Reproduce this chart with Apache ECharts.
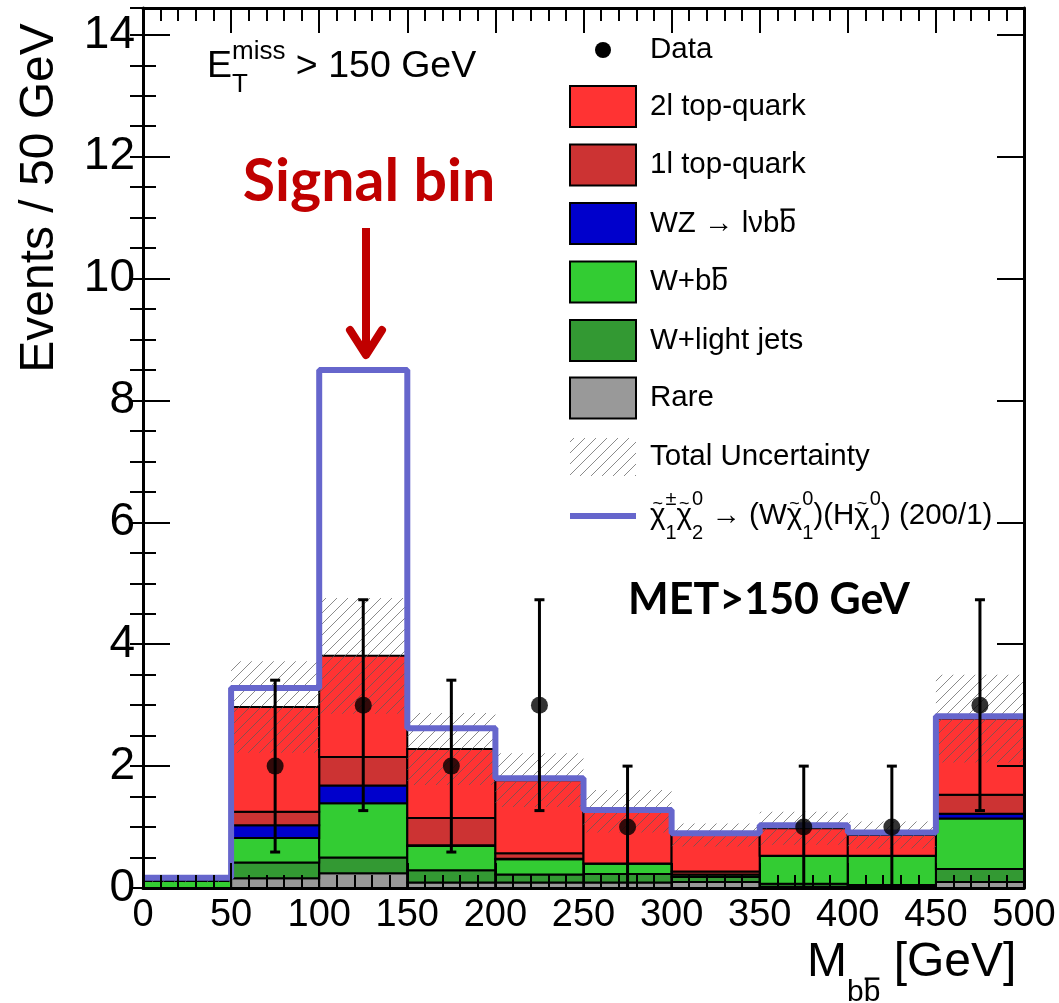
<!DOCTYPE html>
<html>
<head>
<meta charset="utf-8">
<script src="https://cdn.jsdelivr.net/npm/echarts@6/dist/echarts.min.js"></script>
<style>
  html, body { margin: 0; padding: 0; background: #fff; }
  #chart { width: 1059px; height: 1003px; }
</style>
</head>
<body>
<div id="chart"></div>
<script>
// bins of M_bb (GeV)
const binLo = [0, 50, 100, 150, 200, 250, 300, 350, 400, 450];
const binHi = [50, 100, 150, 200, 250, 300, 350, 400, 450, 500];

// background components, stacked bottom -> top (events per bin)
const rare   = [0,    0.16, 0.24, 0.09, 0.09, 0.09, 0.10, 0.02, 0.02, 0.10];
const wLight = [0,    0.26, 0.26, 0.20, 0.13, 0.14, 0.08, 0.05, 0.03, 0.21];
const wBB    = [0.12, 0.40, 0.89, 0.40, 0.25, 0.17, 0.04, 0.46, 0.48, 0.83];
const wz     = [0,    0.21, 0.29, 0.01, 0.01, 0,    0,    0,    0,    0.08];
const top1l  = [0,    0.22, 0.47, 0.45, 0.09, 0,    0.05, 0,    0,    0.31];
const top2l  = [0,    1.72, 1.66, 1.13, 1.20, 0.86, 0.60, 0.45, 0.34, 1.25];

// total uncertainty (half width of hatched band)
const totalUnc = [0.03, 0.75, 0.95, 0.59, 0.44, 0.35, 0.19, 0.27, 0.22, 0.72];

// signal + background step line
const signalLine = [0.17, 3.28, 8.50, 2.62, 1.80, 1.28, 0.90, 1.03, 0.91, 2.82];

// data points
const dataX   = [75, 125, 175, 225, 275, 375, 425, 475];
const dataY   = [2, 3, 2, 3, 1, 1, 1, 3];
const dataErr = [1.41, 1.73, 1.41, 1.73, 1, 1, 1, 1.73];

const xTickStep = 50;
const yTickStep = 2;

const FONT = '"Liberation Sans", Arial, sans-serif';
const colors = {
  rare: '#999999', wLight: '#339933', wBB: '#33cc33',
  wz: '#0000cc', top1l: '#cc3333', top2l: '#ff3333', signal: '#6666cc'
};

// hatch pattern for the uncertainty band
const hatchCanvas = document.createElement('canvas');
hatchCanvas.width = 11; hatchCanvas.height = 11;
(function () {
  const c = hatchCanvas.getContext('2d');
  c.strokeStyle = 'rgba(90,90,90,0.7)';
  c.lineWidth = 1;
  c.beginPath();
  c.moveTo(0, 11); c.lineTo(11, 0);
  c.moveTo(-5.5, 5.5); c.lineTo(5.5, -5.5);
  c.moveTo(5.5, 16.5); c.lineTo(16.5, 5.5);
  c.stroke();
})();
const hatch = { image: hatchCanvas, repeat: 'repeat' };

// build stacked boxes [x0, x1, base, top]
const stackOrder = [
  ['Rare', rare, colors.rare],
  ['W+light jets', wLight, colors.wLight],
  ['W+bb', wBB, colors.wBB],
  ['WZ', wz, colors.wz],
  ['1l top-quark', top1l, colors.top1l],
  ['2l top-quark', top2l, colors.top2l]
];
const base = binLo.map(() => 0);
const stackSeries = stackOrder.map(([name, vals, color]) => {
  const data = binLo.map((x0, i) => {
    const b = base[i];
    base[i] = +(b + vals[i]).toFixed(4);
    return [x0, binHi[i], b, base[i]];
  });
  return {
    name: name, type: 'custom', z: 2,
    itemStyle: { color: color },
    encode: { x: [0, 1], y: [2, 3] },
    renderItem: function (params, api) {
      const p0 = api.coord([api.value(0), api.value(3)]);
      const p1 = api.coord([api.value(1), api.value(2)]);
      return {
        type: 'rect',
        shape: { x: p0[0], y: p0[1], width: p1[0] - p0[0], height: p1[1] - p0[1] },
        style: { fill: api.visual('color'), stroke: '#000', lineWidth: 2 }
      };
    },
    data: data
  };
});
const total = base.slice();

const uncData = binLo.map((x0, i) => [x0, binHi[i], total[i] - totalUnc[i], total[i] + totalUnc[i]]);
const signalData = binLo.map((x, i) => [x, signalLine[i]]).concat([[binHi[binHi.length - 1], signalLine[signalLine.length - 1]]]);
const errData = dataX.map((x, i) => [x, dataY[i], Math.max(0, dataY[i] - dataErr[i]), dataY[i] + dataErr[i]]);

// text with sub/superscripts, bars and tildes
const measureCtx = document.createElement('canvas').getContext('2d');
function textW(t, size) {
  measureCtx.font = size + 'px ' + FONT;
  return measureCtx.measureText(t).width;
}
function mathText(x, y, size, parts, opt) {
  opt = opt || {};
  const small = Math.round(size * (opt.small || 0.68));
  const subDy = size * (opt.sub || 0.5);
  const supDy = -size * (opt.sup || 0.45);
  const els = [];
  let cx = x, pending = 0;
  parts.forEach(p => {
    const s = p.pos ? small : size;
    const yy = y + (p.pos === 'sub' ? subDy : p.pos === 'sup' ? supDy : 0);
    const w = textW(p.t, s);
    els.push({ type: 'text', z: 20, style: { text: p.t, x: cx, y: yy, font: s + 'px ' + FONT, fill: '#000', align: 'left', verticalAlign: 'middle' } });
    if (p.bar) {
      const by = yy - s * 0.47;
      els.push({ type: 'line', z: 20, shape: { x1: cx + 1, y1: by, x2: cx + w - 1, y2: by }, style: { stroke: '#000', lineWidth: Math.max(2, s * 0.08) } });
    }
    if (p.tilde) {
      els.push({ type: 'text', z: 20, style: { text: '~', x: cx + w / 2, y: yy - s * 0.42, font: Math.round(s * 0.6) + 'px ' + FONT, fill: '#000', align: 'center', verticalAlign: 'middle' } });
    }
    if (p.stack) {
      pending = w;
    } else {
      cx += Math.max(w, pending);
      pending = 0;
    }
  });
  return els;
}

// legend
const chi = [
  { t: '\u03c7', tilde: true }, { t: '\u00b1', pos: 'sup', stack: true }, { t: '1', pos: 'sub' },
  { t: '\u03c7', tilde: true }, { t: '0', pos: 'sup', stack: true }, { t: '2', pos: 'sub' },
  { t: ' \u2192 (W' },
  { t: '\u03c7', tilde: true }, { t: '0', pos: 'sup', stack: true }, { t: '1', pos: 'sub' },
  { t: ')(H' },
  { t: '\u03c7', tilde: true }, { t: '0', pos: 'sup', stack: true }, { t: '1', pos: 'sub' },
  { t: ') (200/1)' }
];
const legendRows = [
  { kind: 'dot', y: 50, parts: [{ t: 'Data' }] },
  { kind: 'box', y: 106.5, color: colors.top2l, parts: [{ t: '2l top-quark' }] },
  { kind: 'box', y: 165, color: colors.top1l, parts: [{ t: '1l top-quark' }] },
  { kind: 'box', y: 223.5, color: colors.wz, parts: [{ t: 'WZ \u2192 l\u03bdb' }, { t: 'b', bar: true }] },
  { kind: 'box', y: 282, color: colors.wBB, parts: [{ t: 'W+b' }, { t: 'b', bar: true }] },
  { kind: 'box', y: 340.5, color: colors.wLight, parts: [{ t: 'W+light jets' }] },
  { kind: 'box', y: 398, color: colors.rare, parts: [{ t: 'Rare' }] },
  { kind: 'hatch', y: 457, parts: [{ t: 'Total Uncertainty' }] },
  { kind: 'line', y: 516, parts: chi }
];
const graphics = [];
legendRows.forEach(r => {
  if (r.kind === 'dot') {
    graphics.push({ type: 'circle', z: 20, shape: { cx: 603, cy: r.y, r: 8 }, style: { fill: '#000' } });
  } else if (r.kind === 'box') {
    graphics.push({ type: 'rect', z: 20, shape: { x: 570, y: r.y - 20.5, width: 66, height: 41 }, style: { fill: r.color, stroke: '#000', lineWidth: 2 } });
  } else if (r.kind === 'hatch') {
    graphics.push({ type: 'rect', z: 20, shape: { x: 570, y: r.y - 19, width: 66, height: 38 }, style: { fill: hatch } });
  } else {
    graphics.push({ type: 'line', z: 20, shape: { x1: 570, y1: r.y, x2: 636, y2: r.y }, style: { stroke: colors.signal, lineWidth: 6 } });
  }
  graphics.push(...mathText(650, r.y, 29.5, r.parts, { sub: 0.6, sup: 0.55 }));
});

// annotations
graphics.push(...mathText(207, 67, 37.5, [{ t: 'E' }, { t: 'miss', pos: 'sup', stack: true }, { t: 'T', pos: 'sub' }, { t: ' > 150 GeV' }], { sub: 0.47, sup: 0.4 }));
graphics.push(...mathText(807, 963, 48, [{ t: 'M' }, { t: 'b', pos: 'sub' }, { t: 'b', pos: 'sub', bar: true }, { t: ' [GeV]' }], { sub: 0.62, small: 0.62 }));
graphics.push({
  type: 'text', z: 20, x: 40, y: 198, rotation: Math.PI / 2,
  style: { text: 'Events / 50 GeV', x: 0, y: 0, font: '48px ' + FONT, fill: '#000', align: 'center', verticalAlign: 'middle' }
});
graphics.push({
  type: 'text', z: 20,
  style: { text: 'Signal bin', x: 369, y: 182, font: 'bold 59px Lato, "Open Sans", sans-serif', fill: '#c00000', align: 'center', verticalAlign: 'middle' }
});
graphics.push({ type: 'line', z: 20, shape: { x1: 366, y1: 228, x2: 366, y2: 354 }, style: { stroke: '#c00000', lineWidth: 8 } });
graphics.push({ type: 'polyline', z: 20, shape: { points: [[350, 330], [366, 355], [382, 330]] }, style: { stroke: '#c00000', lineWidth: 8, lineCap: 'round', lineJoin: 'round', fill: null } });
graphics.push({
  type: 'text', z: 20,
  style: { text: 'MET>150 GeV', x: 769, y: 600, font: 'bold 43px Lato, "Open Sans", sans-serif', fill: '#000', align: 'center', verticalAlign: 'middle' }
});

const axisLine = { show: true, onZero: false, lineStyle: { color: '#000', width: 3 } };
function xAx(pos, labels) {
  return {
    type: 'value', position: pos, min: 0, max: 500, interval: xTickStep, z: 10,
    axisLine: axisLine,
    axisTick: { show: true, inside: true, length: 25, lineStyle: { color: '#000', width: 2 } },
    minorTick: { show: true, splitNumber: 5, length: 13, lineStyle: { color: '#000', width: 2 } },
    axisLabel: { show: labels, fontSize: 38, fontFamily: FONT, color: '#000', margin: 9 },
    splitLine: { show: false }, minorSplitLine: { show: false }
  };
}
function yAx(pos, step, len, labels, line) {
  return {
    type: 'value', position: pos, min: 0, max: 14.44, interval: step, z: 10,
    axisLine: line ? axisLine : { show: false },
    axisTick: { show: true, inside: true, length: len, lineStyle: { color: '#000', width: 2 } },
    axisLabel: { show: labels, fontSize: 46, fontFamily: FONT, color: '#000', margin: 8, showMaxLabel: false },
    splitLine: { show: false }
  };
}

const chart = echarts.init(document.getElementById('chart'));
chart.setOption({
  animation: false,
  backgroundColor: '#fff',
  grid: { left: 143, right: 35, top: 8, bottom: 115 },
  xAxis: [xAx('bottom', true), xAx('top', false)],
  yAxis: [
    yAx('left', yTickStep, 27, true, true),
    yAx('left', 0.5, 13, false, false),
    yAx('right', yTickStep, 27, false, true),
    yAx('right', 0.5, 13, false, false)
  ],
  graphic: graphics,
  series: stackSeries.concat([
    {
      name: 'Total Uncertainty', type: 'custom', z: 3,
      encode: { x: [0, 1], y: [2, 3] },
      renderItem: function (params, api) {
        const p0 = api.coord([api.value(0), api.value(3)]);
        const p1 = api.coord([api.value(1), api.value(2)]);
        return {
          type: 'rect',
          shape: { x: p0[0], y: p0[1], width: p1[0] - p0[0], height: p1[1] - p0[1] },
          style: { fill: hatch }
        };
      },
      data: uncData
    },
    {
      name: 'signal', type: 'line', step: 'end', z: 4, symbol: 'none',
      lineStyle: { color: colors.signal, width: 6 },
      data: signalData
    },
    {
      name: 'Data errors', type: 'custom', z: 5,
      encode: { x: 0, y: [2, 3] },
      renderItem: function (params, api) {
        const top = api.coord([api.value(0), api.value(3)]);
        const bot = api.coord([api.value(0), api.value(2)]);
        const ch = [{ type: 'line', shape: { x1: top[0], y1: top[1], x2: bot[0], y2: bot[1] }, style: { stroke: '#000', lineWidth: 3 } },
          { type: 'line', shape: { x1: top[0] - 5, y1: top[1], x2: top[0] + 5, y2: top[1] }, style: { stroke: '#000', lineWidth: 3 } }];
        if (api.value(2) > 0) {
          ch.push({ type: 'line', shape: { x1: bot[0] - 5, y1: bot[1], x2: bot[0] + 5, y2: bot[1] }, style: { stroke: '#000', lineWidth: 3 } });
        }
        return { type: 'group', children: ch };
      },
      data: errData
    },
    {
      name: 'Data', type: 'scatter', z: 6, symbol: 'circle', symbolSize: 17,
      itemStyle: { color: '#000' },
      data: dataX.map((x, i) => [x, dataY[i]])
    }
  ])
});
</script>
</body>
</html>
